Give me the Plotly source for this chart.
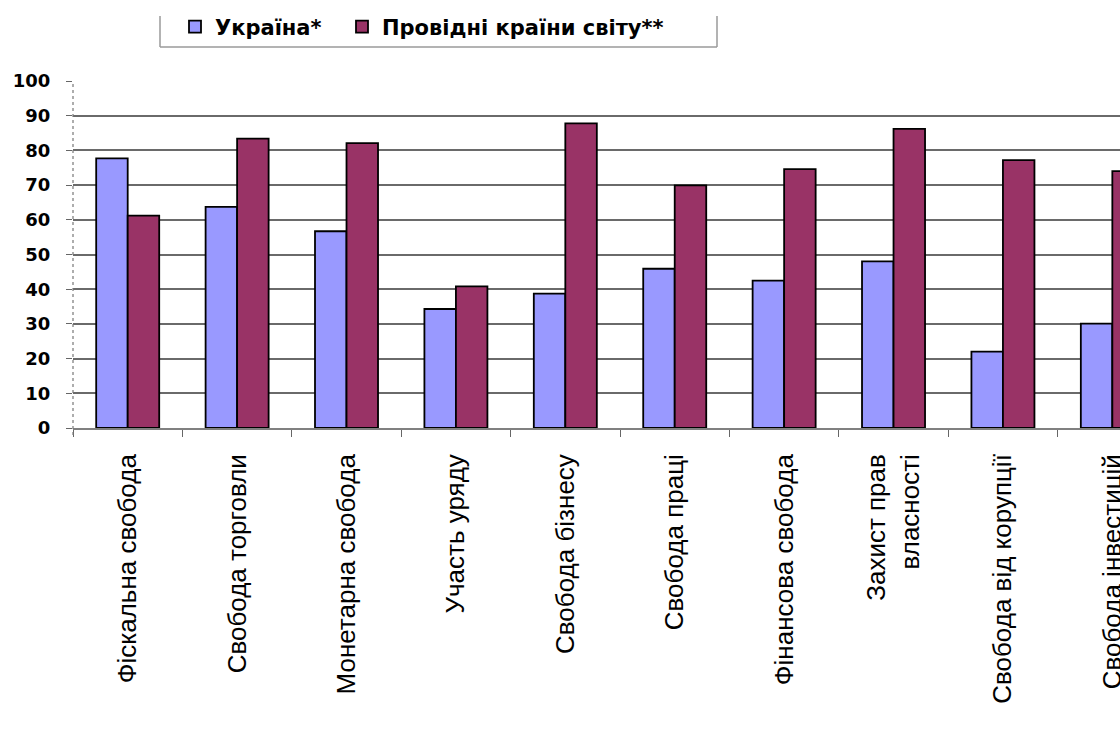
import plotly.graph_objects as go

# Index components (category labels on the x axis)
categories = [
    "Фіскальна свобода",
    "Свобода торговли",
    "Монетарна свобода",
    "Участь уряду",
    "Свобода бізнесу",
    "Свобода праці",
    "Фінансова свобода",
    "Захист прав<br>власності",
    "Свобода від корупції",
    "Свобода інвестицій",
]

# Series names
name_ukraine = "Україна*"
name_leaders = "Провідні країни світу**"

# Scores by component
ukraine = [77.7, 63.7, 56.7, 34.3, 38.7, 45.9, 42.5, 48.0, 22.0, 30.1]
leaders = [61.2, 83.4, 82.1, 40.8, 87.8, 69.9, 74.6, 86.2, 77.2, 74.0]

# Y axis ticks
y_ticks = [0, 10, 20, 30, 40, 50, 60, 70, 80, 90, 100]

W, H = 1120, 731
ML, MT, MB, MR = 73, 81, 303, 0
plot_w = W - ML - MR
plot_h = H - MT - MB


def px_x(x):
    return (x - ML) / plot_w


def px_y(y):
    return (H - MB - y) / plot_h


fig = go.Figure()
fig.add_trace(go.Bar(
    x=categories, y=ukraine, name=name_ukraine, legend="legend",
    marker=dict(color="#9999FF", line=dict(color="black", width=1.8)),
))
fig.add_trace(go.Bar(
    x=categories, y=leaders, name=name_leaders, legend="legend2",
    marker=dict(color="#993366", line=dict(color="black", width=1.8)),
))

shapes = [
    # dotted left edge of the plot area
    dict(type="line", xref="paper", yref="paper", x0=0, x1=0, y0=-0.02, y1=1,
         line=dict(color="#777777", width=1.2, dash="dot"), layer="above"),
    # legend frame (left, right, bottom)
    dict(type="line", xref="paper", yref="paper",
         x0=px_x(160), x1=px_x(160), y0=px_y(47), y1=px_y(16),
         line=dict(color="#808080", width=1.2)),
    dict(type="line", xref="paper", yref="paper",
         x0=px_x(717), x1=px_x(717), y0=px_y(47), y1=px_y(16),
         line=dict(color="#808080", width=1.2)),
    dict(type="line", xref="paper", yref="paper",
         x0=px_x(160), x1=px_x(717), y0=px_y(47), y1=px_y(47),
         line=dict(color="#9a9a9a", width=1.5)),
]

legend_style = dict(
    orientation="h",
    xref="container", yref="container",
    y=1 - 27 / H,
    xanchor="left", yanchor="middle",
    font=dict(family="DejaVu Sans", size=21, weight="bold", color="black"),
    itemwidth=30,
    bgcolor="rgba(0,0,0,0)",
)

fig.update_layout(
    width=W, height=H,
    margin=dict(l=ML, r=MR, t=MT, b=MB, autoexpand=False),
    paper_bgcolor="white",
    plot_bgcolor="white",
    barmode="group",
    bargap=0.424,
    bargroupgap=0,
    font=dict(family="Liberation Sans, Arial", color="black"),
    showlegend=True,
    legend=dict(legend_style, x=175 / W),
    legend2=dict(legend_style, x=342 / W),
    shapes=shapes,
)

fig.update_xaxes(
    type="category",
    range=[-0.5, 9.07],
    tickson="boundaries",
    ticks="outside",
    ticklen=7,
    tickcolor="#666666",
    tickwidth=1,
    showline=True,
    linecolor="#808080",
    linewidth=1.5,
    showgrid=False,
    tickangle=-90,
    ticklabelstandoff=14,
    tickfont=dict(family="Liberation Sans, Arial", size=26, color="black"),
    automargin=False,
)

fig.update_yaxes(
    range=[0, 100],
    tickvals=y_ticks,
    ticks="outside",
    ticklen=6,
    tickcolor="#666666",
    showline=False,
    showgrid=True,
    gridcolor="#6a6a6a",
    gridwidth=1.5,
    zeroline=False,
    ticklabelstandoff=12,
    tickfont=dict(family="DejaVu Sans", size=18, weight="bold", color="black"),
    automargin=False,
)

fig.write_html("out.html")
